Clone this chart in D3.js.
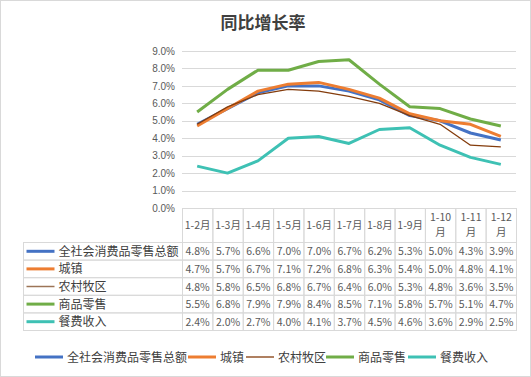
<!DOCTYPE html>
<html>
<head>
<meta charset="utf-8">
<script src="https://cdn.jsdelivr.net/npm/d3@7"></script>
<style>
  body { margin: 0; background: #fff; }
  svg { display: block; font-family: "Noto Sans CJK SC", "Microsoft YaHei", sans-serif; }
  .axis path, .axis line { display: none; }
  .axis text { fill: #595959; font-size: 10px; }
  .grid line { stroke: #d9d9d9; }
  .cell { fill: none; stroke: #d9d9d9; }
</style>
</head>
<body>
<div id="chart"></div>
<script>
// categories and series
const months = ["1-2月", "1-3月", "1-4月", "1-5月", "1-6月", "1-7月", "1-8月", "1-9月", "1-10月", "1-11月", "1-12月"];
const seriesNames = ["全社会消费品零售总额", "城镇", "农村牧区", "商品零售", "餐费收入"];
const total   = [4.8, 5.7, 6.6, 7.0, 7.0, 6.7, 6.2, 5.3, 5.0, 4.3, 3.9];
const urban   = [4.7, 5.7, 6.7, 7.1, 7.2, 6.8, 6.3, 5.4, 5.0, 4.8, 4.1];
const rural   = [4.8, 5.8, 6.5, 6.8, 6.7, 6.4, 6.0, 5.3, 4.8, 3.6, 3.5];
const goods   = [5.5, 6.8, 7.9, 7.9, 8.4, 8.5, 7.1, 5.8, 5.7, 5.1, 4.7];
const catering = [2.4, 2.0, 2.7, 4.0, 4.1, 3.7, 4.5, 4.6, 3.6, 2.9, 2.5];
const yTicks = [0, 1, 2, 3, 4, 5, 6, 7, 8, 9];

const seriesValues = [total, urban, rural, goods, catering];
const colors = ["#4472c4", "#ed7d31", "#843c0c", "#70ad47", "#3ec1b4"];
const widths = [3, 3, 1.3, 3, 3];

const W = 531, H = 377;
const margin = {left: 182, right: 15, top: 51};
const plotH = 157;
const headerH = 34;
const rowH = 17.6;
const tableLeft = 23.5;

const svg = d3.select("#chart").append("svg")
  .attr("width", W)
  .attr("height", H);

// outer frame
svg.append("rect")
  .attr("x", 0.5).attr("y", 0.5)
  .attr("width", W - 1).attr("height", H - 1)
  .attr("fill", "#fff")
  .attr("stroke", "#d9d9d9");

// title
svg.append("text")
  .attr("x", 263)
  .attr("y", 29)
  .attr("text-anchor", "middle")
  .attr("fill", "#404040")
  .attr("font-size", "17px")
  .attr("font-weight", "bold")
  .text("同比增长率");

const x = d3.scaleBand()
  .domain(months)
  .range([margin.left, W - margin.right]);

const y = d3.scaleLinear()
  .domain([0, 9])
  .range([margin.top + plotH, margin.top]);

// gridlines
svg.append("g")
  .attr("class", "grid")
  .selectAll("line")
  .data(yTicks)
  .enter().append("line")
  .attr("x1", margin.left)
  .attr("x2", W - margin.right)
  .attr("y1", d => Math.round(y(d)) + 0.5)
  .attr("y2", d => Math.round(y(d)) + 0.5);

// y axis
svg.append("g")
  .attr("class", "axis")
  .attr("transform", `translate(${margin.left - 3},0)`)
  .call(d3.axisLeft(y).tickValues(yTicks).tickSize(0).tickPadding(4)
    .tickFormat(d => d.toFixed(1) + "%"));

// lines
const line = d3.line()
  .x((d, i) => x(months[i]) + x.bandwidth() / 2)
  .y(d => y(d));

seriesValues.forEach((vals, k) => {
  svg.append("path")
    .datum(vals)
    .attr("fill", "none")
    .attr("stroke", colors[k])
    .attr("stroke-width", widths[k])
    .attr("stroke-linejoin", "round")
    .attr("d", line);
});

// data table
const tableTop = margin.top + plotH;
const bodyTop = tableTop + headerH;
const table = svg.append("g");

// header cells
months.forEach(m => {
  table.append("rect")
    .attr("class", "cell")
    .attr("x", x(m) + 0.5)
    .attr("y", tableTop + 0.5)
    .attr("width", x.bandwidth())
    .attr("height", headerH);
  const parts = m.length > 4 ? [m.slice(0, -1), "月"] : [m];
  parts.forEach((p, j) => {
    table.append("text")
      .attr("x", x(m) + x.bandwidth() / 2 + 0.5)
      .attr("y", parts.length > 1 ? tableTop + 13 + j * 15 : tableTop + 21)
      .attr("text-anchor", "middle")
      .attr("fill", "#595959")
      .attr("font-size", "10.5px")
      .text(p);
  });
});

// body rows
seriesNames.forEach((name, k) => {
  const ry = bodyTop + k * rowH;
  table.append("rect")
    .attr("class", "cell")
    .attr("x", tableLeft)
    .attr("y", ry + 0.5)
    .attr("width", margin.left - tableLeft + 0.5)
    .attr("height", rowH);
  table.append("line")
    .attr("x1", tableLeft + 3).attr("x2", tableLeft + 31)
    .attr("y1", ry + rowH / 2 + 0.5).attr("y2", ry + rowH / 2 + 0.5)
    .attr("stroke", colors[k] === "#843c0c" ? "#9c7457" : colors[k])
    .attr("stroke-width", k === 2 ? 1.5 : 3);
  table.append("text")
    .attr("x", tableLeft + 35)
    .attr("y", ry + rowH / 2 + 5)
    .attr("fill", "#404040")
    .attr("font-size", "12px")
    .text(name);

  months.forEach((m, i) => {
    table.append("rect")
      .attr("class", "cell")
      .attr("x", x(m) + 0.5)
      .attr("y", ry + 0.5)
      .attr("width", x.bandwidth())
      .attr("height", rowH);
    table.append("text")
      .attr("x", x(m) + x.bandwidth() / 2 + 0.5)
      .attr("y", ry + rowH / 2 + 4.5)
      .attr("text-anchor", "middle")
      .attr("fill", "#595959")
      .attr("font-size", "10.5px")
      .text(seriesValues[k][i].toFixed(1) + "%");
  });
});

// legend
const legendX = [35, 188, 246, 326, 408];
const legend = svg.append("g");
seriesNames.forEach((name, k) => {
  legend.append("line")
    .attr("x1", legendX[k]).attr("x2", legendX[k] + 28)
    .attr("y1", 357).attr("y2", 357)
    .attr("stroke", colors[k])
    .attr("stroke-width", widths[k]);
  legend.append("text")
    .attr("x", legendX[k] + 32)
    .attr("y", 361.5)
    .attr("fill", "#404040")
    .attr("font-size", "12px")
    .text(name);
});
</script>
</body>
</html>
